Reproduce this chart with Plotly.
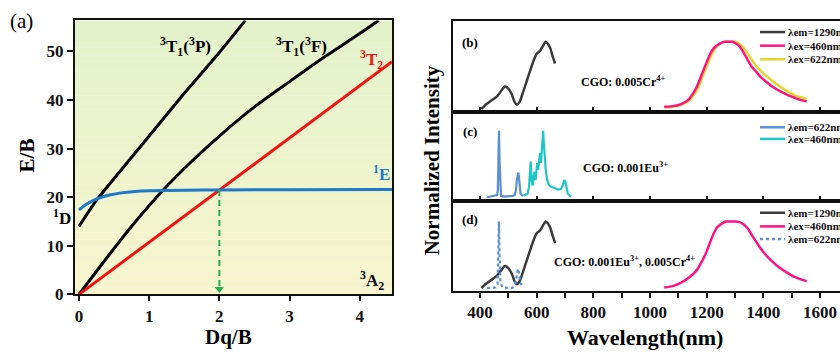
import plotly.graph_objects as go

W, H = 840, 352
SERIF = "Liberation Serif"

# ---------------- Tanabe-Sugano (d2) data ----------------
dq_3p = [0, 0.25, 0.6, 1.0, 1.5, 2.0, 2.37]
e_3p = [14.0, 19.4, 25.6, 32.6, 41.4, 49.8, 56.4]

dq_3f = [0, 0.4, 0.8, 1.2, 1.6, 2.0, 2.5, 3.0, 3.5, 4.0, 4.27]
e_3f = [0, 7.6, 14.9, 21.5, 27.3, 32.6, 38.6, 43.8, 48.9, 53.7, 56.4]

dq_3t2 = [0, 4.46]
e_3t2 = [0, 47.9]

dq_1e = [0, 0.1, 0.2, 0.3, 0.45, 0.6, 0.8, 1.0, 1.5, 2.0, 3.0, 4.46]
e_1e = [17.4, 18.5, 19.3, 19.9, 20.5, 20.9, 21.2, 21.35, 21.45, 21.5, 21.55, 21.6]

dq_marker = 2.0
e_marker = 21.5

# ---------------- spectra ----------------
wl_cr_ex = [405, 420, 440, 460, 475, 488, 500, 512, 522, 530, 540, 552, 565, 578,
            590, 600, 612, 622, 632, 640, 648, 656, 665]
i_cr_ex = [0.04, 0.10, 0.16, 0.22, 0.30, 0.36, 0.33, 0.25, 0.14, 0.10, 0.14, 0.28,
           0.44, 0.60, 0.74, 0.83, 0.87, 0.94, 1.00, 0.97, 0.91, 0.80, 0.69]

wl_cr_em460 = [1050, 1080, 1110, 1135, 1155, 1170, 1185, 1200, 1215, 1230, 1245, 1260,
               1275, 1290, 1302, 1315, 1330, 1345, 1360, 1375, 1390, 1410, 1435, 1460,
               1485, 1510, 1530, 1553]
i_cr_em460 = [0.07, 0.08, 0.11, 0.17, 0.28, 0.40, 0.56, 0.71, 0.85, 0.93, 0.97, 1.0,
              1.0, 1.0, 0.98, 0.94, 0.85, 0.74, 0.64, 0.57, 0.50, 0.43, 0.35, 0.29,
              0.24, 0.20, 0.17, 0.15]

wl_cr_em622 = [1050, 1080, 1110, 1135, 1160, 1175, 1190, 1205, 1220, 1235, 1250, 1265,
               1285, 1300, 1312, 1325, 1340, 1355, 1370, 1385, 1400, 1420, 1445, 1470,
               1495, 1520, 1540, 1553]
i_cr_em622 = [0.06, 0.07, 0.10, 0.15, 0.27, 0.39, 0.55, 0.70, 0.84, 0.93, 0.98, 1.0,
              1.0, 1.0, 0.98, 0.94, 0.86, 0.77, 0.68, 0.61, 0.55, 0.48, 0.40, 0.33,
              0.27, 0.22, 0.20, 0.18]

wl_eu_ex = [425, 435, 445, 455, 460, 463, 465, 467, 469, 471, 474, 485, 495, 505, 515,
            522, 527, 530, 533, 535, 537, 540, 543, 548, 553]
i_eu_ex = [0.05, 0.06, 0.06, 0.07, 0.08, 0.15, 0.55, 1.02, 0.60, 0.15, 0.07, 0.06,
           0.06, 0.07, 0.07, 0.08, 0.15, 0.30, 0.38, 0.41, 0.36, 0.20, 0.10, 0.08, 0.07]

wl_eu_em = [553, 560, 568, 573, 577, 579, 582, 586, 590, 593, 596, 599, 602, 605, 609,
            612, 615, 618, 621, 623, 625, 628, 632, 636, 641, 648, 656, 665, 675, 685,
            692, 697, 701, 705, 710, 718, 722]
i_eu_em = [0.07, 0.08, 0.10, 0.20, 0.45, 0.57, 0.30, 0.22, 0.38, 0.42, 0.30, 0.50,
           0.55, 0.45, 0.65, 0.70, 0.55, 0.75, 0.95, 1.02, 0.85, 0.60, 0.45, 0.32,
           0.25, 0.21, 0.20, 0.18, 0.16, 0.17, 0.22, 0.30, 0.28, 0.17, 0.10, 0.07, 0.06]

wl_co_em460 = [1050, 1080, 1110, 1140, 1165, 1185, 1200, 1212, 1224, 1238, 1253, 1268,
               1285, 1300, 1315, 1330, 1345, 1360, 1376, 1400, 1430, 1459, 1485, 1506,
               1530, 1553]
i_co_em460 = [0.05, 0.07, 0.12, 0.20, 0.30, 0.44, 0.57, 0.70, 0.82, 0.92, 0.97, 1.0,
              1.0, 1.0, 0.99, 0.96, 0.90, 0.80, 0.70, 0.56, 0.43, 0.33, 0.26, 0.21,
              0.17, 0.14]

wl_co_ex622 = [425, 440, 455, 462, 465, 467, 469, 472, 480, 495, 510, 520, 527, 532,
               535, 538, 542, 548, 553]
i_co_ex622 = [0.04, 0.04, 0.05, 0.10, 0.50, 1.00, 0.55, 0.12, 0.05, 0.04, 0.04, 0.06,
              0.15, 0.28, 0.32, 0.25, 0.12, 0.08, 0.06]

wl_ticks = [400, 600, 800, 1000, 1200, 1400, 1600]

# ---------------- colours ----------------
C_BLACK = "#000000"
C_RED = "#f21414"
C_BLUE_TS = "#1f78c8"
C_GREEN = "#22b04a"
C_DARK = "#3a3a3a"
C_PINK = "#ff1282"
C_YELLOW = "#e3d62c"
C_EU_BLUE = "#5a90d2"
C_CYAN = "#1fc6c6"


def px(x):
    return x / W


def py(y):
    return 1 - y / H


fig = go.Figure()

# ---------------- panel (a) ----------------
ts_line = dict(width=3, shape="spline", smoothing=0.6)
fig.add_trace(go.Scatter(x=dq_3p, y=e_3p, mode="lines",
                         line=dict(color=C_BLACK, **ts_line), xaxis="x", yaxis="y"))
fig.add_trace(go.Scatter(x=dq_3f, y=e_3f, mode="lines",
                         line=dict(color=C_BLACK, **ts_line), xaxis="x", yaxis="y"))
fig.add_trace(go.Scatter(x=dq_3t2, y=e_3t2, mode="lines",
                         line=dict(color=C_RED, width=3), xaxis="x", yaxis="y"))
fig.add_trace(go.Scatter(x=dq_1e, y=e_1e, mode="lines",
                         line=dict(color=C_BLUE_TS, **ts_line), xaxis="x", yaxis="y"))
fig.add_trace(go.Scatter(x=[dq_marker, dq_marker], y=[e_marker, 1.6], mode="lines",
                         line=dict(color=C_GREEN, width=2, dash="6px,4px"),
                         xaxis="x", yaxis="y"))
fig.add_trace(go.Scatter(x=[dq_marker], y=[1.1], mode="markers",
                         marker=dict(symbol="triangle-down", size=8, color=C_GREEN),
                         xaxis="x", yaxis="y"))

# ---------------- panels (b)-(d) ----------------
spec = dict(width=2.5, shape="spline", smoothing=0.5)
fig.add_trace(go.Scatter(x=wl_cr_ex, y=i_cr_ex, mode="lines",
                         line=dict(color=C_DARK, **spec), xaxis="x2", yaxis="y2"))
fig.add_trace(go.Scatter(x=wl_cr_em622, y=i_cr_em622, mode="lines",
                         line=dict(color=C_YELLOW, **spec), xaxis="x2", yaxis="y2"))
fig.add_trace(go.Scatter(x=wl_cr_em460, y=i_cr_em460, mode="lines",
                         line=dict(color=C_PINK, **spec), xaxis="x2", yaxis="y2"))

fig.add_trace(go.Scatter(x=wl_eu_ex, y=i_eu_ex, mode="lines",
                         line=dict(color=C_EU_BLUE, width=2.2), xaxis="x3", yaxis="y3"))
fig.add_trace(go.Scatter(x=wl_eu_em, y=i_eu_em, mode="lines",
                         line=dict(color=C_CYAN, width=2.2), xaxis="x3", yaxis="y3"))

fig.add_trace(go.Scatter(x=wl_cr_ex, y=i_cr_ex, mode="lines",
                         line=dict(color=C_DARK, **spec), xaxis="x4", yaxis="y4"))
fig.add_trace(go.Scatter(x=wl_co_em460, y=i_co_em460, mode="lines",
                         line=dict(color=C_PINK, **spec), xaxis="x4", yaxis="y4"))
fig.add_trace(go.Scatter(x=wl_co_ex622, y=i_co_ex622, mode="lines",
                         line=dict(color=C_EU_BLUE, width=2.2, dash="dot"),
                         xaxis="x4", yaxis="y4"))

# ---------------- gradient background of panel (a) ----------------
shapes = []
YMAX_A = 56.4
n_strips = 40
top_rgb = (227, 242, 204)
bot_rgb = (247, 245, 206)
for k in range(n_strips):
    f = (k + 0.5) / n_strips
    r = round(bot_rgb[0] + (top_rgb[0] - bot_rgb[0]) * f)
    g = round(bot_rgb[1] + (top_rgb[1] - bot_rgb[1]) * f)
    b = round(bot_rgb[2] + (top_rgb[2] - bot_rgb[2]) * f)
    shapes.append(dict(type="rect", xref="x domain", yref="y",
                       x0=0, x1=1, y0=YMAX_A * k / n_strips, y1=YMAX_A * (k + 1) / n_strips + 0.05,
                       fillcolor=f"rgb({r},{g},{b})", line=dict(width=0), layer="below"))

# ---------------- legends of panels (b)-(d) ----------------
annotations = []
legend_rows = [
    (33, C_DARK, "solid", "λem=1290nm"),
    (47, C_PINK, "solid", "λex=460nm"),
    (61, C_YELLOW, "solid", "λex=622nm"),
    (131, C_EU_BLUE, "solid", "λem=622nm"),
    (143, C_CYAN, "solid", "λex=460nm"),
    (219, C_DARK, "solid", "λem=1290nm"),
    (233, C_PINK, "solid", "λex=460nm"),
    (246, C_EU_BLUE, "dot", "λem=622nm"),
]
for yy, col, dash, txt in legend_rows:
    shapes.append(dict(type="line", xref="paper", yref="paper",
                       x0=px(760), x1=px(785), y0=py(yy), y1=py(yy),
                       line=dict(color=col, width=2.5, dash=dash)))
    annotations.append(dict(x=px(786), y=py(yy), xref="paper", yref="paper",
                            text=txt, showarrow=False, xanchor="left", yanchor="middle",
                            font=dict(family=SERIF, size=11, color="#111", weight="bold")))


def label(x, y, text, size, color="#000", weight="bold", angle=0):
    annotations.append(dict(x=px(x), y=py(y), xref="paper", yref="paper", text=text,
                            showarrow=False, xanchor="center", yanchor="middle",
                            textangle=angle,
                            font=dict(family=SERIF, size=size, color=color, weight=weight)))


label(21, 22, "(a)", 21, weight="normal")
label(185, 48, "<sup>3</sup>T<sub>1</sub>(<sup>3</sup>P)", 17)
label(301, 48, "<sup>3</sup>T<sub>1</sub>(<sup>3</sup>F)", 17)
label(371, 61, "<sup>3</sup>T<sub>2</sub>", 17, color=C_RED)
label(381, 178, "<sup>1</sup>E", 17, color=C_BLUE_TS)
label(62, 223, "<sup>1</sup>D", 17)
label(372, 289, "<sup>3</sup>A<sub>2</sub>", 17)
label(27, 160, "E/B", 21, angle=-90)
label(229, 347, "Dq/B", 21)

label(470, 44, "(b)", 13)
label(470, 135, "(c)", 13)
label(470, 226, "(d)", 13)
label(623, 84, "CGO: 0.005Cr<sup>4+</sup>", 12)
label(625, 172, "CGO: 0.001Eu<sup>3+</sup>", 12)
label(624, 269, "CGO: 0.001Eu<sup>3+</sup>, 0.005Cr<sup>4+</sup>", 12)
label(432, 165, "Normalized Intensity", 21, angle=-90)
label(645, 347, "Wavelength(nm)", 22)

# ---------------- axes ----------------
tick_font = dict(family=SERIF, size=17, color="#111", weight="bold")

A_DOM_X = [px(75), px(392)]
A_DOM_Y = [py(303), py(21)]
R_DOM_X = [px(453), 1.0]
B_DOM_Y = [py(115), py(21.5)]
C_DOM_Y = [py(206.5), py(115)]
D_DOM_Y = [py(299.5), py(206.5)]

WL_RANGE = [304.7, 1670.6]
I_RANGE = [0, 1.3]

frame = dict(showline=True, linecolor="#111", linewidth=2, showgrid=False, zeroline=False)

layout = dict(
    width=W, height=H,
    margin=dict(l=0, r=0, t=0, b=0),
    paper_bgcolor="white",
    plot_bgcolor="rgba(0,0,0,0)",
    showlegend=False,
    shapes=shapes,
    annotations=annotations,
    xaxis=dict(domain=A_DOM_X, range=[-0.057, 4.46], anchor="y", mirror=True,
               ticks="outside", ticklen=5, tickwidth=2, tickcolor="#111",
               tickvals=[0, 1, 2, 3, 4], tickfont=tick_font, ticklabelstandoff=0, **frame),
    yaxis=dict(domain=A_DOM_Y, range=[0, YMAX_A], anchor="x", mirror=True,
               ticks="outside", ticklen=6, tickwidth=2, tickcolor="#111",
               tickvals=[0, 10, 20, 30, 40, 50], tickfont=tick_font, **frame),
    xaxis2=dict(domain=R_DOM_X, range=WL_RANGE, anchor="y2", mirror=True,
                ticks="inside", ticklen=5, tickwidth=1.5, tickcolor="#111",
                tickvals=wl_ticks, showticklabels=False, **frame),
    yaxis2=dict(domain=B_DOM_Y, range=I_RANGE, anchor="x2", showticklabels=False,
                ticks="", **frame),
    xaxis3=dict(domain=R_DOM_X, range=WL_RANGE, anchor="y3", mirror=True,
                ticks="inside", ticklen=5, tickwidth=1.5, tickcolor="#111",
                tickvals=wl_ticks, showticklabels=False, **frame),
    yaxis3=dict(domain=C_DOM_Y, range=I_RANGE, anchor="x3", showticklabels=False,
                ticks="", **frame),
    xaxis4=dict(domain=R_DOM_X, range=WL_RANGE, anchor="y4", mirror=True,
                ticks="outside", ticklen=5, tickwidth=1.5, tickcolor="#111",
                tickvals=wl_ticks, tickfont=tick_font, ticklabelstandoff=0,
                minor=dict(dtick=100, tick0=300, ticks="outside", ticklen=5,
                           tickwidth=1.5, tickcolor="#111"),
                **frame),
    yaxis4=dict(domain=D_DOM_Y, range=I_RANGE, anchor="x4", showticklabels=False,
                ticks="", **frame),
)
fig.update_layout(**layout)

fig.write_html("out.html")
